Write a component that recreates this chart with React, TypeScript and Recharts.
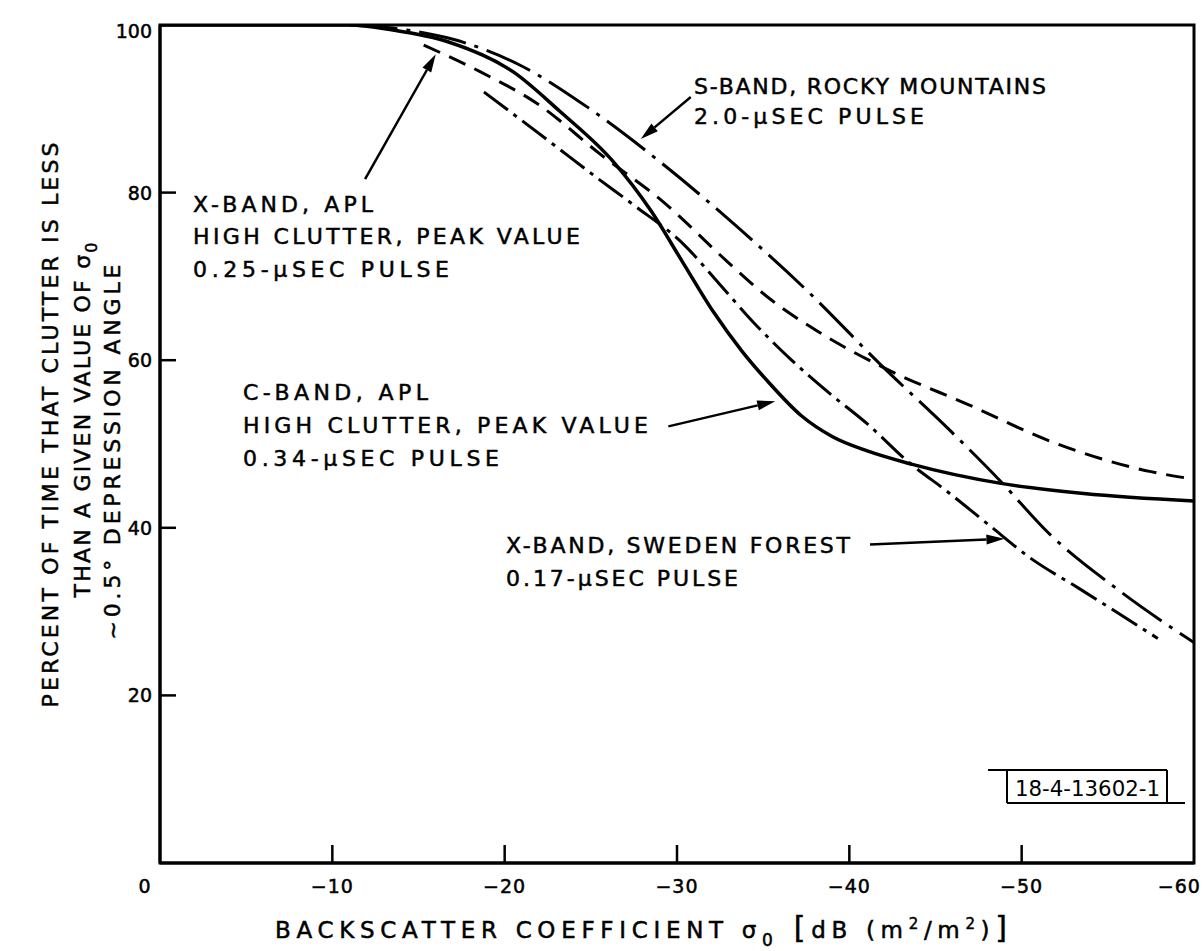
import React from 'react';
import { LineChart, Line, XAxis, YAxis, ReferenceArea, ReferenceLine } from 'recharts';

// sigma_0 (dB) vs percent of time
const cBandApl = [
  { x: 0, y: 100 }, { x: -11, y: 100 }, { x: -13.5, y: 99.4 }, { x: -16.7, y: 98 },
  { x: -20.5, y: 94.4 }, { x: -23.2, y: 89.7 }, { x: -26.3, y: 83.7 }, { x: -28.5, y: 77.8 },
  { x: -30.3, y: 71.8 }, { x: -32.1, y: 65.8 }, { x: -33.8, y: 61 }, { x: -35.3, y: 57.4 },
  { x: -37.2, y: 53.4 }, { x: -39, y: 50.9 }, { x: -41, y: 49.2 }, { x: -43.6, y: 47.6 },
  { x: -48.8, y: 45.3 }, { x: -53.6, y: 44.1 }, { x: -60, y: 43.2 },
];

const xBandApl = [
  { x: -15.3, y: 97.6 }, { x: -18.6, y: 94.4 }, { x: -21.9, y: 90.6 }, { x: -25.6, y: 84.5 },
  { x: -29.2, y: 78.9 }, { x: -32.9, y: 71.8 }, { x: -35.4, y: 67.3 }, { x: -38.2, y: 63.4 },
  { x: -42.2, y: 58.9 }, { x: -46.9, y: 54.7 }, { x: -51.7, y: 50.3 }, { x: -57.5, y: 46.7 },
  { x: -60, y: 45.8 },
];

const sBandRocky = [
  { x: -11, y: 100 }, { x: -14, y: 99.5 }, { x: -17, y: 98.3 }, { x: -20.9, y: 95.2 },
  { x: -24.8, y: 90.2 }, { x: -29.3, y: 83.2 }, { x: -33.5, y: 75.9 }, { x: -37.6, y: 68.2 },
  { x: -41.8, y: 59.5 }, { x: -45.9, y: 51.5 }, { x: -48.8, y: 45.5 }, { x: -51.5, y: 39.5 },
  { x: -55.6, y: 32.6 }, { x: -60, y: 26.3 },
];

const xBandSweden = [
  { x: -18.8, y: 92 }, { x: -22.6, y: 86.1 }, { x: -25.4, y: 81.7 }, { x: -27.5, y: 78.5 },
  { x: -30.4, y: 73.8 }, { x: -32.5, y: 69 }, { x: -34.4, y: 64.6 }, { x: -36.6, y: 60.1 },
  { x: -38.7, y: 56.3 }, { x: -41.1, y: 52.3 }, { x: -43.4, y: 47.9 }, { x: -45.7, y: 44.3 },
  { x: -48, y: 40.5 }, { x: -50.5, y: 36.4 }, { x: -53.3, y: 32.8 }, { x: -57.9, y: 26.8 },
];

const xTicks = [0, -10, -20, -30, -40, -50, -60];
const yTicks = [20, 40, 60, 80, 100];

// arrows from the labels to the curves: [from, to]
const arrows = [
  [{ x: -11.9, y: 81.6 }, { x: -16.0, y: 96.5 }],
  [{ x: -30.8, y: 91.4 }, { x: -27.9, y: 86.4 }],
  [{ x: -29.5, y: 52.1 }, { x: -35.7, y: 55.1 }],
  [{ x: -41.2, y: 38.0 }, { x: -49.0, y: 38.7 }],
];

const FONT = '"DejaVu Sans", sans-serif';
const INK = { fill: '#000', stroke: '#000', strokeWidth: 0.5 };

const XTick = ({ x, y, payload }: any) => {
  const v = payload.value;
  const label = v === 0 ? '0' : `\u2212${Math.abs(v)}`;
  return (
    <g>
      {v !== 0 && v !== -60 && <line x1={x} y1={y} x2={x} y2={y - 18} stroke="#000" strokeWidth={2.5} />}
      <text x={v === 0 ? x - 15 : v === -60 ? x - 14 : x} y={y + 30} textAnchor="middle"
        fontFamily={FONT} fontSize={19} letterSpacing={1} {...INK}>{label}</text>
    </g>
  );
};

const YTick = ({ x, y, payload }: any) => {
  const v = payload.value;
  return (
    <g>
      {v !== 100 && <line x1={x} y1={y} x2={x + 16} y2={y} stroke="#000" strokeWidth={2.5} />}
      <text x={x - 8} y={y + 7 + (v === 100 ? 6 : 0)} textAnchor="end"
        fontFamily={FONT} fontSize={19} {...INK}>{v}</text>
    </g>
  );
};

const Arrow = (p: any) => {
  const { x1, y1, x2, y2 } = p;
  const a = Math.atan2(y2 - y1, x2 - x1);
  const L = 18, W = 5;
  const bx = x2 - L * Math.cos(a), by = y2 - L * Math.sin(a);
  const pts = `${x2},${y2} ${bx + W * Math.sin(a)},${by - W * Math.cos(a)} ${bx - W * Math.sin(a)},${by + W * Math.cos(a)}`;
  return (
    <g>
      <line x1={x1} y1={y1} x2={bx} y2={by} stroke="#000" strokeWidth={2.5} />
      <polygon points={pts} fill="#000" />
    </g>
  );
};

const Label = ({ x, y, w, children }: any) => (
  <text x={x} y={y} textLength={w} lengthAdjust="spacing" fontFamily={FONT} fontSize={22} {...INK}>
    {children}
  </text>
);

export default function App() {
  return (
    <div style={{ position: 'absolute', left: 0, top: 0, width: 1204, height: 951, background: '#fff' }}>
      <LineChart width={1204} height={951} margin={{ top: 25, right: 10, left: 100, bottom: 58 }}>
        <XAxis type="number" dataKey="x" domain={[-60, 0]} reversed ticks={xTicks} allowDataOverflow
          axisLine={{ stroke: '#000', strokeWidth: 3 }} tickLine={false} tickSize={0} tickMargin={0}
          height={30} tick={<XTick />} />
        <YAxis type="number" domain={[0, 100]} ticks={yTicks} allowDataOverflow width={60}
          axisLine={{ stroke: '#000', strokeWidth: 3 }} tickLine={false} tickSize={0} tickMargin={0}
          tick={<YTick />} />
        <ReferenceArea x1={0} x2={-60} y1={0} y2={100} fill="none" stroke="#000" strokeWidth={3} ifOverflow="visible" />
        <Line data={cBandApl} dataKey="y" type="monotone" stroke="#000" strokeWidth={3.5} dot={false} isAnimationActive={false} />
        <Line data={xBandApl} dataKey="y" type="monotone" stroke="#000" strokeWidth={3} strokeDasharray="18 10" dot={false} isAnimationActive={false} />
        <Line data={sBandRocky} dataKey="y" type="monotone" stroke="#000" strokeWidth={3} strokeDasharray="48 9 4 9" dot={false} isAnimationActive={false} />
        <Line data={xBandSweden} dataKey="y" type="monotone" stroke="#000" strokeWidth={3} strokeDasharray="30 7 4 7" dot={false} isAnimationActive={false} />
        {arrows.map((seg, i) => (
          <ReferenceLine key={i} segment={seg} ifOverflow="visible" stroke="#000" shape={Arrow} />
        ))}
      </LineChart>
      <svg width={1204} height={951} style={{ position: 'absolute', left: 0, top: 0, pointerEvents: 'none' }}>
        <Label x={694} y={94} w={352}>S-BAND, ROCKY MOUNTAINS</Label>
        <Label x={694} y={124} w={230}>2.0-μSEC PULSE</Label>

        <Label x={193} y={212} w={180}>X-BAND, APL</Label>
        <Label x={193} y={244} w={387}>HIGH CLUTTER, PEAK VALUE</Label>
        <Label x={193} y={277} w={256}>0.25-μSEC PULSE</Label>

        <Label x={243} y={400} w={185}>C-BAND, APL</Label>
        <Label x={243} y={433} w={405}>HIGH CLUTTER, PEAK VALUE</Label>
        <Label x={243} y={466} w={256}>0.34-μSEC PULSE</Label>

        <Label x={506} y={553} w={344}>X-BAND, SWEDEN FOREST</Label>
        <Label x={506} y={586} w={232}>0.17-μSEC PULSE</Label>

        {/* drawing number box */}
        <line x1={988} y1={770} x2={1167} y2={770} stroke="#000" strokeWidth={2} />
        <line x1={1007} y1={803} x2={1185} y2={803} stroke="#000" strokeWidth={2} />
        <line x1={1007} y1={770} x2={1007} y2={803} stroke="#000" strokeWidth={2} />
        <line x1={1167} y1={770} x2={1167} y2={803} stroke="#000" strokeWidth={2} />
        <text x={1015} y={796} textLength={145} lengthAdjust="spacingAndGlyphs"
          fontFamily='"Liberation Sans Narrow", "DejaVu Sans Condensed", sans-serif' fontSize={21} fill="#000">18-4-13602-1</text>

        {/* axis titles */}
        <text x={275} y={938} textLength={732} lengthAdjust="spacing" fontFamily={FONT} fontSize={23} {...INK}>
          BACKSCATTER  COEFFICIENT  σ<tspan dy={8} fontSize={17}>0</tspan><tspan dy={-8} fontSize={30}> [</tspan>dB (m<tspan dy={-9} fontSize={15}>2</tspan><tspan dy={9}>/m</tspan><tspan dy={-9} fontSize={15}>2</tspan><tspan dy={9}>)</tspan><tspan fontSize={30}>]</tspan>
        </text>
        <g fontFamily={FONT} fontSize={22} {...INK}>
          <text transform="translate(58 425) rotate(-90)" textAnchor="middle" textLength={565} lengthAdjust="spacing">PERCENT OF TIME THAT CLUTTER IS LESS</text>
          <text transform="translate(90 420) rotate(-90)" textAnchor="middle" textLength={355} lengthAdjust="spacing">THAN A GIVEN VALUE OF σ<tspan dy={7} fontSize={16}>0</tspan></text>
          <text transform="translate(120 452) rotate(-90)" textAnchor="middle" textLength={375} lengthAdjust="spacing">~0.5° DEPRESSION ANGLE</text>
        </g>
      </svg>
    </div>
  );
}
